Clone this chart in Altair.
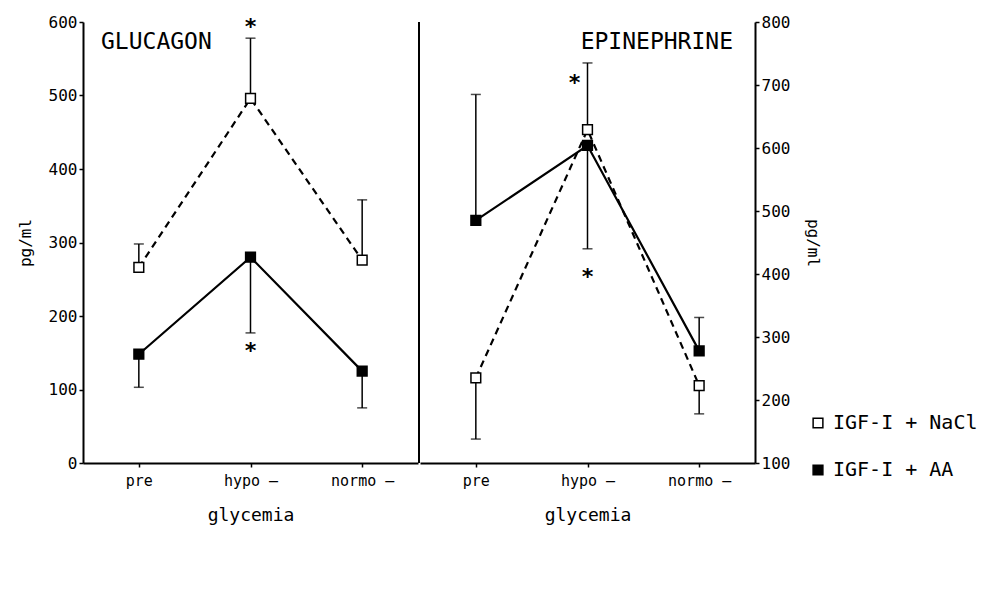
import altair as alt
import pandas as pd

FONT = "DejaVu Sans Mono"

categories = ["pre", "hypo –", "normo –"]
groups = ["IGF-I + NaCl", "IGF-I + AA"]

# Glucagon (pg/ml)
gluc_nacl = [266, 496, 276]
gluc_nacl_err = [298, 578, 358]
gluc_aa = [148, 280, 125]
gluc_aa_err = [103, 177, 75]
gluc_star_cat = ["hypo –", "hypo –"]
gluc_star_y = [598, 158]

# Epinephrine (pg/ml)
epi_nacl = [235, 629, 223]
epi_nacl_err = [138, 735, 178]
epi_aa = [485, 604, 278]
epi_aa_err = [685, 440, 331]
epi_star_cat = ["hypo –", "hypo –"]
epi_star_y = [709, 401]
epi_star_shift = [True, False]

gluc_ticks = list(range(0, 601, 50))
epi_ticks = list(range(100, 801, 50))


def make_df(nacl, nacl_err, aa, aa_err):
    rows = []
    for c, v, e in zip(categories, nacl, nacl_err):
        rows.append({"glycemia": c, "group": groups[0], "value": v, "err": e})
    for c, v, e in zip(categories, aa, aa_err):
        rows.append({"glycemia": c, "group": groups[1], "value": v, "err": e})
    return pd.DataFrame(rows)


W = 335
H = 441


def panel(df, stars, domain, ticks, orient, title_text, title_x, title_align, divider):
    yscale = alt.Scale(domain=domain, nice=False, zero=False)
    xscale = alt.Scale(type="point", padding=0.5, domain=categories)
    xenc = alt.X(
        "glycemia:N",
        sort=categories,
        scale=xscale,
        axis=alt.Axis(
            title="glycemia",
            labelAngle=0,
            labelFont=FONT,
            labelFontSize=15,
            labelColor="black",
            labelPadding=6,
            tickSize=4,
            tickColor="black",
            tickWidth=1.5,
            domainColor="black",
            domainWidth=2,
            titleFont=FONT,
            titleFontSize=18,
            titleFontWeight="normal",
            titleColor="black",
            titlePadding=18,
            grid=False,
        ),
    )
    yaxis = alt.Axis(
        title="pg/ml",
        orient=orient,
        values=ticks,
        labelExpr="datum.value % 100 == 0 ? datum.label : ''",
        tickSize={"condition": {"test": "datum.value % 100 != 0", "value": 2}, "value": 4},
        tickColor="black",
        tickWidth=1.5,
        domainColor="black",
        domainWidth=2,
        labelFont=FONT,
        labelFontSize=16,
        labelColor="black",
        labelPadding=2,
        titleFont=FONT,
        titleFontSize=16,
        titleFontWeight="normal",
        titleColor="black",
        titlePadding=15,
        titleAngle=(270 if orient == "left" else 90),
        grid=False,
    )
    base = alt.Chart(df).encode(x=xenc)
    y = alt.Y("value:Q", scale=yscale, axis=yaxis)

    line_nacl = base.transform_filter(alt.datum.group == groups[0]).mark_line(
        color="black", strokeWidth=2.2, strokeDash=[7, 5]
    ).encode(y=y)
    line_aa = base.transform_filter(alt.datum.group == groups[1]).mark_line(
        color="black", strokeWidth=2.2
    ).encode(y=alt.Y("value:Q", scale=yscale))
    bars = base.mark_rule(color="black", strokeWidth=1.5).encode(
        y=alt.Y("value:Q", scale=yscale), y2="err:Q"
    )
    caps = base.mark_tick(color="black", size=10, thickness=1.5).encode(
        y=alt.Y("err:Q", scale=yscale)
    )
    points = base.mark_point(
        shape="square", filled=True, size=95, stroke="black", strokeWidth=1.5, opacity=1
    ).encode(
        y=alt.Y("value:Q", scale=yscale),
        fill=alt.Fill(
            "group:N",
            scale=alt.Scale(domain=groups, range=["white", "black"]),
            legend=alt.Legend(
                title=None,
                orient="none",
                legendX=725,
                legendY=391,
                labelFont=FONT,
                labelFontSize=20,
                labelColor="black",
                symbolType="square",
                symbolSize=95,
                symbolStrokeColor="black",
                symbolStrokeWidth=1.5,
                rowPadding=27,
                labelOffset=5,
                padding=0,
            ),
        ),
    )
    sdf = stars
    star_c = alt.Chart(sdf[~sdf["shift"]]).mark_text(
        text="*", font=FONT, fontSize=22, fontWeight="bold", color="black", baseline="middle", dy=4
    ).encode(
        x=alt.X("glycemia:N", sort=categories, scale=xscale),
        y=alt.Y("y:Q", scale=yscale),
    )
    layers = [line_nacl, line_aa, bars, caps, points, star_c]
    if sdf["shift"].any():
        star_s = alt.Chart(sdf[sdf["shift"]]).mark_text(
            text="*", font=FONT, fontSize=22, fontWeight="bold", color="black", baseline="middle", dy=4, dx=-13
        ).encode(
            x=alt.X("glycemia:N", sort=categories, scale=xscale),
            y=alt.Y("y:Q", scale=yscale),
        )
        layers.append(star_s)
    title = alt.Chart(pd.DataFrame({"t": [title_text]})).mark_text(
        font=FONT, fontSize=23, color="black", align=title_align, baseline="middle"
    ).encode(text="t:N", x=alt.value(title_x), y=alt.value(20))
    layers.append(title)
    if divider:
        div = alt.Chart(pd.DataFrame({"d": [0]})).mark_rule(color="black", strokeWidth=2).encode(
            x=alt.value(W + 1), y=alt.value(0), y2=alt.value(H)
        )
        layers.append(div)
    return alt.layer(*layers).properties(width=W, height=H)


gluc_df = make_df(gluc_nacl, gluc_nacl_err, gluc_aa, gluc_aa_err)
epi_df = make_df(epi_nacl, epi_nacl_err, epi_aa, epi_aa_err)
gluc_stars = pd.DataFrame({"glycemia": gluc_star_cat, "y": gluc_star_y, "shift": [False, False]})
epi_stars = pd.DataFrame({"glycemia": epi_star_cat, "y": epi_star_y, "shift": epi_star_shift})

left = panel(gluc_df, gluc_stars, [0, 600], gluc_ticks, "left", "GLUCAGON", 18, "left", True)
right = panel(epi_df, epi_stars, [100, 800], epi_ticks, "right", "EPINEPHRINE", 313, "right", False)

chart = (
    alt.hconcat(left, right, spacing=0)
    .resolve_scale(y="independent")
    .properties(padding={"left": 17, "top": 14, "right": 2, "bottom": 5}, background="white")
    .configure_view(stroke=None)
)

chart.save("out.html", embed_options={"renderer": "svg", "actions": False})
